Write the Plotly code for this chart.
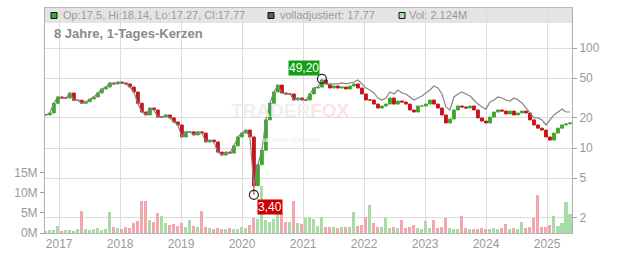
import numpy as np
import pandas as pd
import plotly.graph_objects as go

# ---------------- data ----------------
close = [21.4, 22.4, 28.0, 32.4, 31.6, 31.6, 35.5, 30.0, 30.0, 28.0,
         29.0, 30.9, 32.4, 35.5, 38.9, 40.7, 44.7, 43.7, 45.7, 44.7,
         43.7, 40.7, 36.3, 28.0, 22.9, 21.4, 25.1, 24.0, 20.4, 20.4,
         21.4, 20.0, 18.2, 17.0, 12.9, 14.5, 14.5, 13.5, 14.5, 14.1,
         11.5, 12.0, 11.5, 9.1, 8.5, 9.1, 8.9, 10.5, 12.9, 14.1,
         15.1, 12.9, 4.2, 6.8, 9.5, 19.1, 28.0, 36.3, 42.6, 35.5,
         34.7, 34.7, 30.2, 31.6, 30.2, 30.2, 34.7, 39.8, 40.7, 47.9,
         43.7, 39.8, 41.7, 39.8, 40.7, 38.9, 41.7, 43.7, 39.8, 34.7,
         30.2, 30.2, 27.5, 25.1, 26.3, 27.5, 31.6, 27.5, 29.5, 28.8,
         27.5, 24.0, 22.9, 26.3, 26.3, 27.5, 30.2, 27.5, 25.1, 21.4,
         17.8, 19.5, 24.0, 26.3, 25.7, 25.1, 26.3, 24.0, 20.0, 18.6,
         17.8, 20.4, 22.9, 24.0, 23.4, 21.9, 23.4, 21.4, 22.4, 23.4,
         22.4, 19.1, 17.0, 15.8, 15.1, 12.9, 12.0, 14.1, 15.8, 17.0,
         17.4, 17.77]

adj_tail = [43.0, 43.7, 43.7, 44.7, 43.7, 44.7, 45.7, 47.9, 43.7, 39.8,
            38.0, 35.5, 31.6, 30.2, 31.6, 36.3, 34.7, 38.0, 35.5, 34.7,
            32.4, 30.2, 31.6, 33.1, 35.5, 38.0, 41.7, 39.8, 34.7, 25.7,
            24.0, 32.4, 34.7, 36.3, 34.7, 33.1, 30.2, 27.5, 25.7, 24.5,
            28.8, 30.2, 32.4, 31.6, 30.2, 29.5, 31.6, 30.2, 28.2, 25.1,
            22.4, 20.0, 20.0, 19.1, 17.0, 19.1, 21.4, 22.9, 24.5, 22.9,
            22.9]

volume_m = [0.6, 0.7, 0.8, 1.7, 0.6, 0.7, 0.8, 0.6, 0.9, 5.4,
            1.0, 0.8, 0.9, 1.2, 0.8, 1.0, 5.1, 1.4, 1.2, 1.1,
            1.5, 1.3, 2.5, 3.0, 8.0, 8.0, 3.2, 2.6, 5.0, 4.2,
            2.4, 2.0, 2.2, 1.8, 2.4, 1.6, 3.2, 1.7, 1.4, 5.4,
            1.5, 1.2, 1.0, 1.3, 1.1, 1.0, 1.2, 1.0, 1.1, 1.4,
            1.2, 2.0, 3.6, 3.4, 11.7, 3.3, 2.8, 3.5, 8.0, 5.0,
            2.6, 2.8, 7.8, 2.5, 2.2, 3.7, 4.0, 3.5, 1.8, 4.0,
            1.6, 1.4, 1.5, 1.3, 1.6, 1.4, 1.5, 5.1, 1.8, 2.0,
            4.0, 6.8, 2.5, 1.6, 1.5, 3.7, 1.3, 1.5, 1.2, 3.1,
            1.3, 1.4, 1.9, 1.2, 1.0, 2.9, 1.3, 3.1, 1.2, 1.4,
            3.7, 1.2, 1.0, 1.1, 4.2, 1.2, 1.0, 1.1, 1.0, 1.2,
            1.0, 1.1, 1.3, 1.0, 1.2, 2.2, 1.1, 1.3, 1.0, 2.8,
            1.2, 1.4, 3.6, 9.3, 1.6, 1.4, 2.0, 4.1, 1.8, 2.5,
            7.6, 4.8]

last_open, last_high, last_low = 17.5, 18.14, 17.27
peak_high = 49.20
trough_low = 3.40
start_date = "2016-10-13"
end_date = "2025-05-18"
x_range = ["2016-10-08", "2025-05-30"]

price_ticks = [2, 5, 10, 20, 50, 100]
vol_ticks = [0, 5, 10, 15]
vol_labels = ["0M", "5M", "10M", "15M"]

header_ohlc = "Op:17.5, Hi:18.14, Lo:17.27, Cl:17.77"
header_adj = "volladjustiert: 17.77"
header_vol = "Vol: 2.124M"
title_text = "8 Jahre, 1-Tages-Kerzen"
peak_label = "49,20"
trough_label = "3,40"

# ---------------- derived ----------------
dates = pd.date_range(start_date, end_date, periods=len(close))
opens = [close[0]] + close[:-1]
opens[-1] = last_open
highs = [max(o, c) for o, c in zip(opens, close)]
lows = [min(o, c) for o, c in zip(opens, close)]
highs[-1], lows[-1] = last_high, last_low
ip = int(np.argmax(close))
it = int(np.argmin(close))
highs[ip] = peak_high
lows[it] = trough_low
adj = close[:len(close) - len(adj_tail)] + adj_tail
vol = [v * 1e6 for v in volume_m]

GREEN = "#3ea82a"
RED = "#c8141a"
VGREEN = "#a9dca4"
VRED = "#f1a7ab"
vcolors = [VGREEN if c >= o else VRED for o, c in zip(opens, close)]

FONT = "Liberation Sans, Arial, sans-serif"

# plot area in pixels
L, R, T, B = 45, 572, 8, 233
W, H = R - L, B - T


def px(x):
    return (x - L) / W


def py(y):
    return (B - y) / H


fig = go.Figure()
fig.add_trace(go.Bar(x=dates, y=vol, marker=dict(color=vcolors, line_width=0),
                     width=18 * 86400000, yaxis="y", hoverinfo="skip"))
fig.add_trace(go.Scatter(x=dates, y=adj, mode="lines",
                         line=dict(color="#858585", width=1.2), yaxis="y2"))
fig.add_trace(go.Candlestick(x=dates, open=opens, high=highs, low=lows, close=close,
                             increasing=dict(line=dict(color=GREEN, width=1), fillcolor=GREEN),
                             decreasing=dict(line=dict(color=RED, width=1), fillcolor=RED),
                             whiskerwidth=0, yaxis="y2"))
fig.add_trace(go.Scatter(x=[dates[ip], dates[it]], y=[peak_high, trough_low], mode="markers",
                         marker=dict(symbol="circle-open", size=9, color="#222",
                                     line=dict(width=1.2)), yaxis="y2"))

shapes = [
    dict(type="rect", xref="paper", yref="paper", x0=0, x1=1, y0=py(23), y1=1,
         fillcolor="#e4e4e4", line=dict(width=0), layer="below"),
    dict(type="rect", xref="paper", yref="paper", x0=px(51), x1=px(57), y0=py(18.5), y1=py(12.5),
         fillcolor="#3ea82a", line=dict(color="#111", width=1)),
    dict(type="rect", xref="paper", yref="paper", x0=px(268), x1=px(274), y0=py(18.5), y1=py(12.5),
         fillcolor="#5a5a5a", line=dict(color="#111", width=1)),
    dict(type="rect", xref="paper", yref="paper", x0=px(399), x1=px(405), y0=py(18.5), y1=py(12.5),
         fillcolor="#aadca6", line=dict(color="#111", width=1)),
]

annotations = [
    dict(text=header_ohlc, xref="paper", yref="paper", x=px(61), y=py(15.5), xanchor="left",
         yanchor="middle", showarrow=False, font=dict(family=FONT, size=11, color="#9a9a9a")),
    dict(text=header_adj, xref="paper", yref="paper", x=px(278), y=py(15.5), xanchor="left",
         yanchor="middle", showarrow=False, font=dict(family=FONT, size=11, color="#9a9a9a")),
    dict(text=header_vol, xref="paper", yref="paper", x=px(407), y=py(15.5), xanchor="left",
         yanchor="middle", showarrow=False, font=dict(family=FONT, size=11, color="#9a9a9a")),
    dict(text="<b>" + title_text + "</b>", xref="paper", yref="paper", x=px(52), y=py(33),
         xanchor="left", yanchor="middle", showarrow=False,
         font=dict(family=FONT, size=13, color="#8a8a8a")),
    dict(text="<b>TRADER<span style='color:#fbe3e3'>FOX</span></b><br>"
              "<span style='font-size:5px'><b>THE STOCK SCREENING</b></span>",
         xref="paper", yref="paper",
         x=px(290), y=py(122), xanchor="center", yanchor="middle", showarrow=False,
         font=dict(family=FONT, size=19, color="#efefef")),
    dict(text=peak_label, x=dates[ip], y=np.log10(peak_high), xref="x", yref="y2",
         xanchor="right", yanchor="bottom", xshift=-2, yshift=3, showarrow=False,
         bgcolor="#12a012", borderpad=0, font=dict(family=FONT, size=12, color="white")),
    dict(text=trough_label, x=dates[it], y=np.log10(trough_low), xref="x", yref="y2",
         xanchor="left", yanchor="top", xshift=3, yshift=-4, showarrow=False,
         bgcolor="#cc0000", borderpad=0, font=dict(family=FONT, size=12, color="white")),
]

fig.update_layout(
    width=632, height=253,
    margin=dict(l=L, r=632 - R, t=T, b=253 - B, pad=0, autoexpand=False),
    paper_bgcolor="white", plot_bgcolor="white",
    showlegend=False,
    bargap=0,
    boxgap=0,
    font=dict(family=FONT, size=12, color="#999"),
    shapes=shapes,
    annotations=annotations,
    xaxis=dict(type="date", range=x_range, dtick="M12", tick0="2017-01-01", tickformat="%Y",
               showgrid=True, gridcolor="#dcdcdc", gridwidth=1, automargin=False,
               showline=True, linecolor="#b8b8b8", linewidth=1, mirror=True,
               ticks="", tickfont=dict(family=FONT, size=12, color="#9a9a9a"),
               rangeslider=dict(visible=False), fixedrange=True),
    yaxis=dict(side="left", range=[0, 55.6e6], tickvals=[v * 1e6 for v in vol_ticks],
               ticktext=vol_labels, showgrid=False, zeroline=False, automargin=False,
               showline=True, linecolor="#b0b0b0", linewidth=1,
               ticks="outside", ticklen=4, tickcolor="#a0a0a0",
               tickfont=dict(family=FONT, size=12, color="#9a9a9a")),
    yaxis2=dict(overlaying="y", side="right", type="log", range=[0.15, 2.4],
                tickvals=price_ticks, ticktext=[str(v) for v in price_ticks],
                showgrid=True, gridcolor="#dcdcdc", gridwidth=1, zeroline=False,
                automargin=False,
                showline=True, linecolor="#b0b0b0", linewidth=1,
                ticks="outside", ticklen=4, tickcolor="#a0a0a0",
                tickfont=dict(family=FONT, size=12, color="#9a9a9a")),
)

fig.write_html("out.html")
